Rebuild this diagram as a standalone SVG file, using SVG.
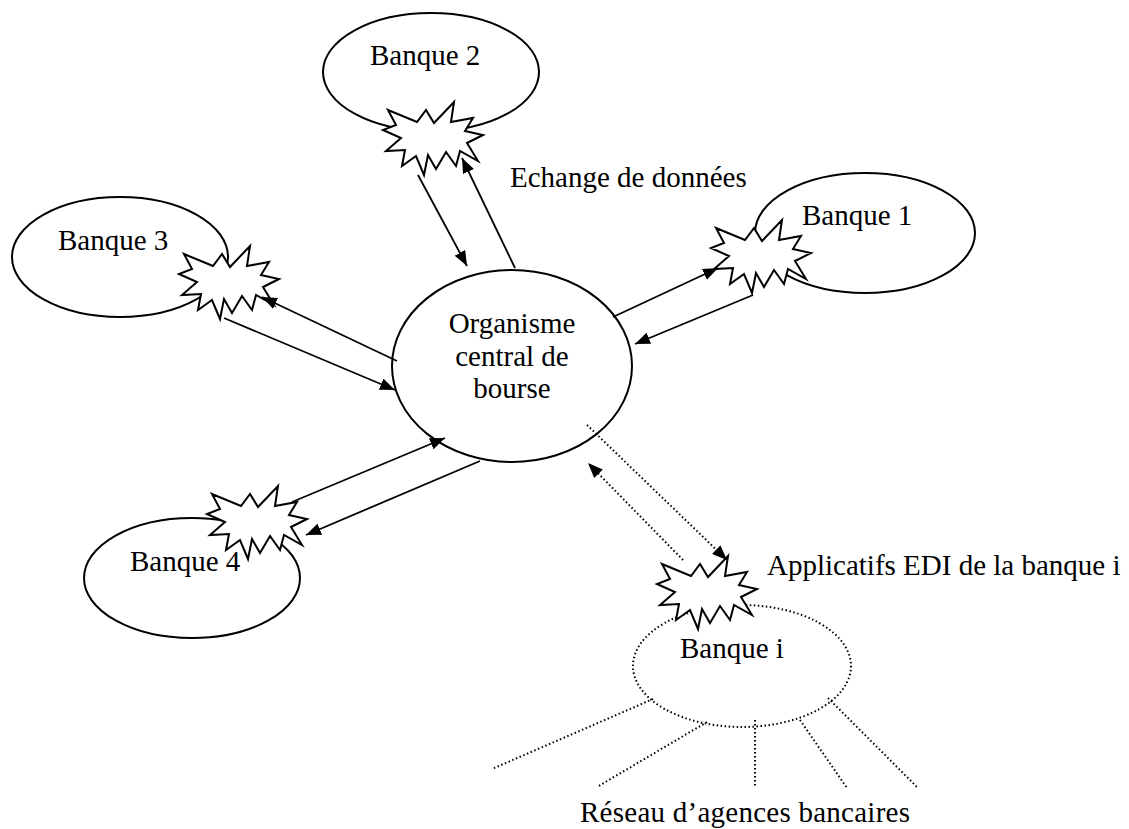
<svg xmlns="http://www.w3.org/2000/svg" width="1129" height="829" viewBox="0 0 1129 829">
<style>
  .node { fill: #ffffff; stroke: #000000; stroke-width: 2; }
  .dotnode { fill: none; stroke: #000000; stroke-width: 2; stroke-dasharray: 1.5 2.5; }
  .star { fill: #ffffff; stroke: #000000; stroke-width: 2; stroke-linejoin: miter; }
  .lbl { font-family: "Liberation Serif", "Times New Roman", serif; font-size: 29px; fill: #000000; }
  .conn { stroke: #000000; stroke-width: 1.8; fill: none; }
  .dot { stroke: #000000; stroke-width: 2; fill: none; stroke-dasharray: 1.5 2.5; }
</style>
<defs>
  <marker id="arr" markerUnits="userSpaceOnUse" markerWidth="16" markerHeight="12" refX="15" refY="6" orient="auto">
    <path d="M0,0 L15,6 L0,12 Z" fill="#000000"/>
  </marker>
  <path id="burst" d="M-45,-28 L-16,-16 L-7,-28 L1,-15 L21,-36 L18,-16 L40,-20 L32,-7 L50,-3 L34,5 L45,23 L27,13 L23,28 L13,14 L3,31 L-5,17 L-9,37 L-17,18 L-31,28 L-28,12 L-47,13 L-32,0 L-50,-8 L-37,-13 Z"/>
</defs>
<rect width="1129" height="829" fill="#ffffff"/>

<g id="central">
  <ellipse class="node" cx="512" cy="366" rx="120" ry="96"/>
  <text class="lbl" x="512" y="333" text-anchor="middle">Organisme</text>
  <text class="lbl" x="512" y="366" text-anchor="middle">central de</text>
  <text class="lbl" x="512" y="398" text-anchor="middle">bourse</text>
</g>

<g id="banque2">
  <ellipse class="node" cx="431" cy="72" rx="108" ry="59"/>
  <text class="lbl" x="370" y="65">Banque 2</text>
  <use href="#burst" class="star" transform="translate(433,138)"/>
</g>

<g id="banque1">
  <ellipse class="node" cx="865" cy="233" rx="110" ry="60"/>
  <text class="lbl" x="802" y="225">Banque 1</text>
  <use href="#burst" class="star" transform="translate(761,256)"/>
</g>

<g id="banque3">
  <ellipse class="node" cx="120" cy="257" rx="108" ry="60"/>
  <text class="lbl" x="58" y="250">Banque 3</text>
  <use href="#burst" class="star" transform="translate(229,282)"/>
</g>

<g id="banque4">
  <ellipse class="node" cx="192" cy="578" rx="108" ry="60"/>
  <text class="lbl" x="130" y="571">Banque 4</text>
  <use href="#burst" class="star" transform="translate(257,522)"/>
</g>

<g id="banquei">
  <ellipse class="dotnode" cx="742" cy="666" rx="109" ry="61"/>
  <text class="lbl" x="680" y="658">Banque i</text>
  <use href="#burst" class="star" transform="translate(707,592)"/>
</g>

<g id="connectors">
  <line class="conn" x1="418" y1="175" x2="467" y2="266" marker-end="url(#arr)"/>
  <line class="conn" x1="515" y1="268" x2="462" y2="158" marker-end="url(#arr)"/>
  <line class="conn" x1="224" y1="318" x2="395" y2="390" marker-end="url(#arr)"/>
  <line class="conn" x1="397" y1="361" x2="262" y2="297" marker-end="url(#arr)"/>
  <line class="conn" x1="613" y1="317" x2="718" y2="268" marker-end="url(#arr)"/>
  <line class="conn" x1="753" y1="295" x2="635" y2="344" marker-end="url(#arr)"/>
  <line class="conn" x1="292" y1="502" x2="445" y2="438" marker-end="url(#arr)"/>
  <line class="conn" x1="480" y1="461" x2="306" y2="535" marker-end="url(#arr)"/>
  <line class="dot" x1="587" y1="425" x2="727" y2="560" marker-end="url(#arr)"/>
  <line class="dot" x1="683" y1="560" x2="588" y2="463" marker-end="url(#arr)"/>
  <line class="dot" x1="653" y1="699" x2="492" y2="769"/>
  <line class="dot" x1="707" y1="722" x2="597" y2="787"/>
  <line class="dot" x1="755" y1="720" x2="755" y2="787"/>
  <line class="dot" x1="800" y1="720" x2="847" y2="788"/>
  <line class="dot" x1="828" y1="698" x2="918" y2="788"/>
</g>

<g id="labels">
  <text class="lbl" x="510" y="187">Echange de données</text>
  <text class="lbl" x="767" y="575">Applicatifs EDI de la banque i</text>
  <text class="lbl" x="580" y="822" textLength="330" lengthAdjust="spacing">Réseau d’agences bancaires</text>
</g>
</svg>
